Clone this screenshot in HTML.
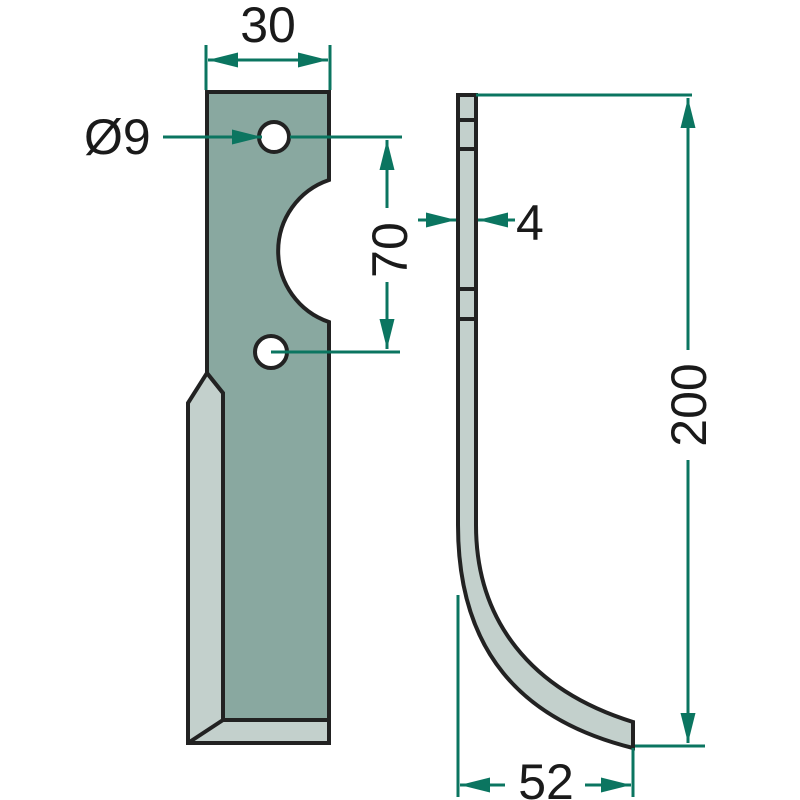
<!DOCTYPE html>
<html><head><style>html,body{margin:0;padding:0;background:#fff}svg{display:block}</style></head>
<body>
<svg width="800" height="800" viewBox="0 0 800 800" xmlns="http://www.w3.org/2000/svg">
<defs>
<marker id="a" viewBox="0 0 10 10" refX="10" refY="5" markerWidth="10" markerHeight="5" orient="auto-start-reverse" markerUnits="strokeWidth" preserveAspectRatio="none"><path d="M0,0L10,5L0,10z" fill="#0b7560"/></marker>
</defs>
<g stroke="#222" stroke-width="4" stroke-linejoin="miter">
<path d="M207,373 L188,403 L188,743 L329,743 L329,720 L223,720 L223,393 Z" fill="#c3d0cc"/>
<path d="M207,92 L329,92 L329,180 A75,75 0 0 0 329,322 L329,720 L223,720 L223,393 L207,373 Z" fill="#89a8a0"/>
<line x1="223" y1="720" x2="188" y2="743"/>
<circle cx="274" cy="137" r="15" fill="#fff"/>
<circle cx="271" cy="352" r="16" fill="#fff"/>
<path d="M458,95 L476,95 L476,525 C476,620 530,690 633,722 L633,748 C520,720 458,650 458,525 Z" fill="#c3d0cc"/>
<line x1="458" y1="120" x2="476" y2="120"/>
<line x1="458" y1="149" x2="476" y2="149"/>
<line x1="458" y1="289" x2="476" y2="289"/>
<line x1="458" y1="319" x2="476" y2="319"/>
</g>
<g stroke="#0b7560" stroke-width="3" fill="none">
<line x1="206" y1="45" x2="206" y2="90"/>
<line x1="330" y1="45" x2="330" y2="90"/>
<line x1="268" y1="60" x2="208" y2="60" marker-end="url(#a)"/>
<line x1="268" y1="60" x2="328" y2="60" marker-end="url(#a)"/>
<line x1="163" y1="137" x2="262" y2="137" marker-end="url(#a)"/>
<line x1="290" y1="137" x2="402" y2="137"/>
<line x1="271" y1="352" x2="400" y2="352"/>
<line x1="387" y1="208" x2="387" y2="140" marker-end="url(#a)"/>
<line x1="387" y1="282" x2="387" y2="349" marker-end="url(#a)"/>
<line x1="418" y1="220" x2="456" y2="220" marker-end="url(#a)"/>
<line x1="515" y1="220" x2="478" y2="220" marker-end="url(#a)"/>
<line x1="476" y1="95" x2="692" y2="95"/>
<line x1="635" y1="746" x2="705" y2="746"/>
<line x1="688" y1="350" x2="688" y2="98" marker-end="url(#a)"/>
<line x1="688" y1="460" x2="688" y2="743" marker-end="url(#a)"/>
<line x1="458" y1="595" x2="458" y2="797"/>
<line x1="633" y1="748" x2="633" y2="797"/>
<line x1="505" y1="785" x2="460" y2="785" marker-end="url(#a)"/>
<line x1="585" y1="785" x2="631" y2="785" marker-end="url(#a)"/>
</g>
<g font-family="Liberation Sans, sans-serif" font-size="50" fill="#1a1a1a">
<text x="268" y="42" text-anchor="middle">30</text>
<text x="84" y="154">Ø9</text>
<text x="516" y="240">4</text>
<text x="546" y="799" text-anchor="middle">52</text>
<text transform="translate(407,250) rotate(-90)" text-anchor="middle">70</text>
<text transform="translate(706,405) rotate(-90)" text-anchor="middle">200</text>
</g>
</svg>
</body></html>
